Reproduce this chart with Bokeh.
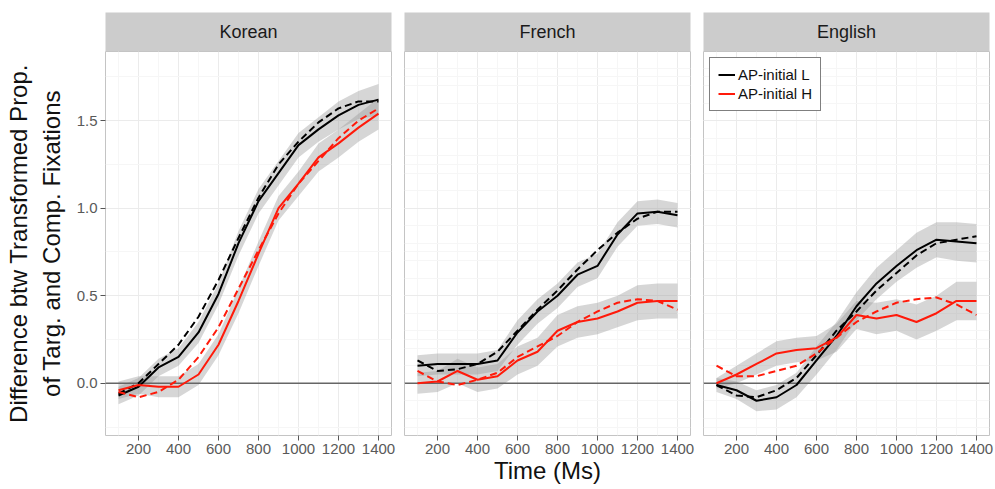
from bokeh.plotting import figure
from bokeh.layouts import row, column
from bokeh.models import (FixedTicker, Range1d, Span, Legend, LegendItem,
                          PrintfTickFormatter, Grid)
from bokeh.embed import file_html
from bokeh.resources import INLINE
from bokeh.core.properties import value

# ---------------- data ----------------
time_ms = [100, 200, 300, 400, 500, 600, 700, 800, 900, 1000, 1100, 1200, 1300, 1400]
languages = ["Korean", "French", "English"]
series_labels = ["AP-initial L", "AP-initial H"]

korean_L_obs = [-0.07, -0.02, 0.09, 0.15, 0.29, 0.51, 0.80, 1.04, 1.20, 1.36, 1.45, 1.53, 1.59, 1.62]
korean_L_fit = [-0.06, 0.00, 0.11, 0.22, 0.38, 0.59, 0.83, 1.06, 1.25, 1.38, 1.49, 1.57, 1.61, 1.61]
korean_H_obs = [-0.04, -0.01, -0.02, -0.02, 0.05, 0.22, 0.47, 0.74, 1.00, 1.14, 1.29, 1.37, 1.46, 1.54]
korean_H_fit = [-0.05, -0.08, -0.05, 0.02, 0.15, 0.32, 0.54, 0.76, 0.97, 1.14, 1.27, 1.40, 1.50, 1.57]
korean_L_se = [0.05, 0.05, 0.05, 0.05, 0.06, 0.06, 0.07, 0.07, 0.07, 0.07, 0.07, 0.08, 0.08, 0.09]
korean_H_se = [0.05, 0.05, 0.06, 0.06, 0.06, 0.06, 0.07, 0.07, 0.07, 0.07, 0.08, 0.08, 0.08, 0.09]

french_L_obs = [0.10, 0.11, 0.11, 0.11, 0.13, 0.29, 0.41, 0.50, 0.62, 0.67, 0.85, 0.97, 0.98, 0.96]
french_L_fit = [0.13, 0.07, 0.08, 0.11, 0.18, 0.30, 0.42, 0.53, 0.65, 0.76, 0.86, 0.94, 0.98, 0.98]
french_H_obs = [0.00, 0.01, 0.07, 0.02, 0.04, 0.13, 0.18, 0.30, 0.35, 0.37, 0.41, 0.46, 0.47, 0.47]
french_H_fit = [0.07, 0.01, -0.01, 0.02, 0.06, 0.15, 0.21, 0.27, 0.35, 0.41, 0.46, 0.48, 0.47, 0.42]
french_L_se = [0.06, 0.06, 0.06, 0.06, 0.06, 0.07, 0.07, 0.07, 0.07, 0.07, 0.07, 0.07, 0.07, 0.07]
french_H_se = [0.06, 0.06, 0.07, 0.07, 0.07, 0.08, 0.08, 0.09, 0.09, 0.09, 0.09, 0.10, 0.10, 0.10]

english_L_obs = [-0.01, -0.04, -0.10, -0.08, -0.01, 0.13, 0.27, 0.44, 0.57, 0.67, 0.76, 0.82, 0.81, 0.80]
english_L_fit = [-0.01, -0.07, -0.08, -0.04, 0.03, 0.16, 0.30, 0.41, 0.53, 0.63, 0.73, 0.80, 0.82, 0.84]
english_H_obs = [0.00, 0.05, 0.11, 0.17, 0.19, 0.20, 0.26, 0.39, 0.37, 0.39, 0.35, 0.40, 0.47, 0.47]
english_H_fit = [0.10, 0.04, 0.04, 0.07, 0.10, 0.17, 0.26, 0.35, 0.41, 0.46, 0.48, 0.49, 0.45, 0.39]
english_L_se = [0.04, 0.05, 0.06, 0.07, 0.07, 0.08, 0.08, 0.08, 0.09, 0.09, 0.10, 0.10, 0.11, 0.11]
english_H_se = [0.03, 0.05, 0.06, 0.07, 0.07, 0.07, 0.08, 0.08, 0.09, 0.09, 0.10, 0.10, 0.11, 0.11]

x_ticks = [200, 400, 600, 800, 1000, 1200, 1400]
x_minor = [100, 300, 500, 700, 900, 1100, 1300]
y_ticks = [0.0, 0.5, 1.0, 1.5]
y_minor = [-0.25, 0.25, 0.75, 1.25, 1.75]

panel_data = {
    "Korean": (korean_L_obs, korean_L_fit, korean_L_se, korean_H_obs, korean_H_fit, korean_H_se),
    "French": (french_L_obs, french_L_fit, french_L_se, french_H_obs, french_H_fit, french_H_se),
    "English": (english_L_obs, english_L_fit, english_L_se, english_H_obs, english_H_fit, english_H_se),
}

# ---------------- style ----------------
FONT = "Liberation Sans"
BLACK = "#000000"
RED = "#ff1a0a"
FRAME_W = 286
STRIP_TOP = 12
STRIP_H = 39
MAIN_FRAME_H = 384
BOTTOM = 54
borders = [(105, 6), (7, 6), (7, 5)]

cols = []
for i, lang in enumerate(languages):
    bl, br = borders[i]
    L_obs, L_fit, L_se, H_obs, H_fit, H_se = panel_data[lang]

    # strip
    s = figure(width=bl + FRAME_W + br, height=STRIP_TOP + STRIP_H, x_range=(0, 1), y_range=(0, 1),
               title=None, toolbar_location=None, output_backend="svg",
               x_axis_location=None, y_axis_location=None,
               min_border_left=bl, min_border_right=br, min_border_top=STRIP_TOP,
               min_border_bottom=0,
               background_fill_color="#cccccc", outline_line_color=None)
    s.grid.visible = False
    s.text(x=[0.5], y=[0.5], text=[lang], text_align="center", text_baseline="middle",
           text_font=value(FONT), text_font_size="18px", text_color="#1a1a1a")

    # main panel
    p = figure(width=bl + FRAME_W + br, height=MAIN_FRAME_H + BOTTOM,
               x_range=Range1d(35, 1465), y_range=Range1d(-0.2985, 1.895),
               title=None, toolbar_location=None, output_backend="svg",
               y_axis_location="left" if i == 0 else None,
               min_border_left=bl, min_border_right=br, min_border_top=0,
               min_border_bottom=BOTTOM,
               background_fill_color="white", outline_line_color="#c4c4c4")

    xt = FixedTicker(ticks=x_ticks, minor_ticks=x_minor)
    yt = FixedTicker(ticks=y_ticks, minor_ticks=y_minor)
    p.xaxis.ticker = xt
    p.xgrid.ticker = xt
    if i == 0:
        p.yaxis.ticker = yt
        p.ygrid.ticker = yt
    else:
        p.add_layout(Grid(dimension=1, ticker=yt))
    for g in p.grid:
        g.grid_line_color = "#ebebeb"
        g.grid_line_width = 1
        g.minor_grid_line_color = "#f6f6f6"
        g.minor_grid_line_width = 1

    for ax in p.axis:
        ax.axis_line_color = None
        ax.major_tick_line_color = "#555555"
        ax.major_tick_line_width = 1
        ax.major_tick_out = 5
        ax.major_tick_in = 0
        ax.minor_tick_line_color = None
        ax.major_label_text_font = FONT
        ax.major_label_text_font_size = "15px"
        ax.major_label_text_color = "#595959"
        ax.major_label_standoff = 3
    if i == 0:
        p.yaxis.formatter = PrintfTickFormatter(format="%.1f")
        p.yaxis.axis_label = "Difference btw Transformed Prop.\nof Targ. and Comp. Fixations"
        p.yaxis.axis_label_text_font = FONT
        p.yaxis.axis_label_text_font_size = "24px"
        p.yaxis.axis_label_text_font_style = "normal"
        p.yaxis.axis_label_text_color = "#111111"
        p.yaxis.axis_label_standoff = 9
        p.yaxis.major_label_standoff = 3
    if i == 1:
        p.xaxis.axis_label = "Time (Ms)"
        p.xaxis.axis_label_text_font = FONT
        p.xaxis.axis_label_text_font_size = "24px"
        p.xaxis.axis_label_text_font_style = "normal"
        p.xaxis.axis_label_text_color = "#111111"
        p.xaxis.axis_label_standoff = 0

    # ribbons
    p.varea(x=time_ms, y1=[v - e for v, e in zip(L_obs, L_se)], y2=[v + e for v, e in zip(L_obs, L_se)],
            fill_color="#999999", fill_alpha=0.4)
    p.varea(x=time_ms, y1=[v - e for v, e in zip(H_obs, H_se)], y2=[v + e for v, e in zip(H_obs, H_se)],
            fill_color="#999999", fill_alpha=0.4)

    zero = Span(location=0, dimension="width", line_color="#666666", line_width=1.6, level="glyph")
    p.renderers.append(zero)

    rL = p.line(time_ms, L_obs, line_color=BLACK, line_width=2)
    p.line(time_ms, L_fit, line_color=BLACK, line_width=2, line_dash="7 4")
    rH = p.line(time_ms, H_obs, line_color=RED, line_width=2)
    p.line(time_ms, H_fit, line_color=RED, line_width=2, line_dash="7 4")

    if i == 2:
        legend = Legend(items=[LegendItem(label=series_labels[0], renderers=[rL]),
                               LegendItem(label=series_labels[1], renderers=[rH])],
                        location="top_left", margin=6, padding=8, spacing=2,
                        glyph_width=17, glyph_height=17, label_height=17,
                        label_standoff=3,
                        label_text_font=FONT, label_text_font_size="15px",
                        label_text_color="#111111",
                        border_line_color="black", border_line_width=1,
                        background_fill_color="white", background_fill_alpha=1.0)
        p.add_layout(legend)

    cols.append(column(s, p))

layout = row(*cols)
open("out.html", "w").write(file_html(layout, INLINE))
